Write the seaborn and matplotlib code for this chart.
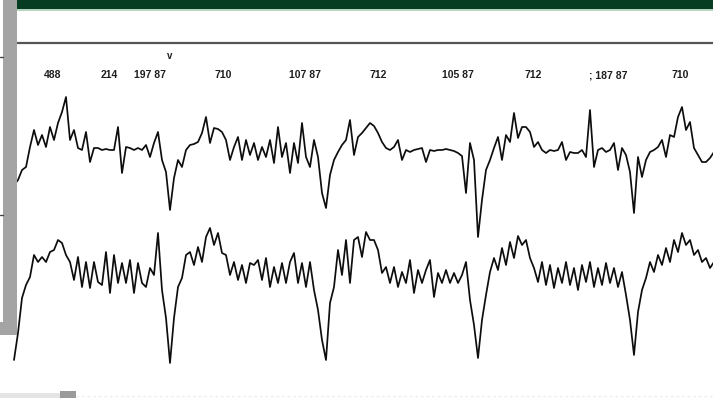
import numpy as np
import pandas as pd
import matplotlib
matplotlib.use("Agg")
import matplotlib.pyplot as plt
from matplotlib.patches import Rectangle
import seaborn as sns

# Two ECG leads, amplitude in microvolts, sampled every 16 ms
lead_upper_uv = [
    -350, -300, -200, -170, 30, 200, 50, 150, 30, 230, 100, 270, 380, 530, 100, 200,
    20, 0, 180, -120, 20, 20, 0, 10, 0, 0, 230, -230, 30, 20, 0, 20,
    0, 50, -70, 70, 180, -100, -220, -600, -280, -100, -170, 0, 50, 60,
    80, 170, 330, 70, 220, 210, 180, 100, -100, 30, 130, -100, 100, -50,
    70, -100, 30, -70, 100, -130, 230, -70, 70, -230, 70, -130, 270, -70,
    -170, 100, -70, -430, -580, -250, -100, -20, 50, 100, 300, -50, 130, 170,
    220, 270, 240, 170, 80, 20, 0, 30, 100, -100, 0, -20, 0, 10,
    20, -120, 0, -10, 0, 0, 10, 0, -10, -30, -60, -430, 70, -100,
    -870, -500, -200, -100, 20, 130, -100, 150, 80, 370, 120, 230, 230, 180,
    30, 80, 0, -30, 0, -10, 0, 80, -100, -20, -30, -30, 0, -70,
    400, -170, 0, 20, -20, 0, 70, -200, 20, -50, -220, -630, -70, -270,
    -100, -20, 0, 30, 100, -70, 150, 130, 330, 430, 200, 280, 20, -50,
    -120, -120, -80, -20,
]

lead_lower_uv = [
    -900, -630, -280, -150, -70, 150, 80, 130, 80, 180, 200, 300, 270, 150, 80, -100,
    130, -170, 80, -180, 80, -120, -150, 180, -230, 150, -130, 70, -130, 100,
    -230, 70, -130, -170, 20, -50, 370, -200, -480, -930, -480, -170, -80, 150,
    180, 50, 230, 80, 330, 420, 250, 370, 170, 150, -50, 80, -100, 50,
    -130, 70, 50, 100, -100, 120, -170, 30, -130, 70, -130, 80, 170, -130,
    70, -170, 80, -200, -400, -700, -900, -330, -170, 200, -50, 300, -130, 300,
    330, 130, 380, 300, 300, 200, -30, 30, -130, 30, -170, -20, -130, 100,
    -230, 0, -130, 0, 100, -270, -30, -130, 0, -130, -30, -130, -50, 80,
    -300, -550, -880, -500, -250, -20, 120, 0, 220, 50, 280, 120, 340, 250,
    300, 120, 20, -120, 80, -150, 50, -180, 20, -130, 80, -150, 20, -200,
    50, -120, 80, -170, 20, -150, 70, -130, 20, -170, -20, -250, -500, -850,
    -420, -200, -80, 80, -20, 150, 50, 220, 80, 300, 180, 370, 250, 300,
    150, 200, 80, 120, 20, 80,
]

# Interval annotations printed above the strip
rhythm_labels = ["488", "214", "197 87", "710", "107 87", "712",
                 "105 87", "712", "; 187 87", "710"]

# ---- layout -------------------------------------------------------------
W, H = 713, 398
SAMPLE_S = 0.016          # seconds between samples
PX_PER_S = 250.0          # paper speed in pixels per second
X0_PX = 14.0              # pixel column of t = 0
UV_PER_PX = 10.0          # vertical gain
UPPER_BASE_PX = 150.0     # baseline row of the upper lead
LOWER_BASE_PX = 270.0     # baseline row of the lower lead
lower_offset_uv = (LOWER_BASE_PX - UPPER_BASE_PX) * UV_PER_PX

label_px = [53, 109, 150, 223, 305, 378, 458, 533, 608, 680]

sns.set_theme(style="white")
plt.rcParams["font.family"] = ["Liberation Sans", "DejaVu Sans"]

fig = plt.figure(figsize=(W / 100, H / 100), dpi=100)
ax = fig.add_axes([0, 0, 1, 1])
ax.set_xlim(-X0_PX / PX_PER_S, (W - X0_PX) / PX_PER_S)
ax.set_ylim((UPPER_BASE_PX - H) * UV_PER_PX, UPPER_BASE_PX * UV_PER_PX)
ax.axis("off")

frames = []
for name, vals, off in (("upper", lead_upper_uv, 0.0),
                        ("lower", lead_lower_uv, lower_offset_uv)):
    v = np.asarray(vals, dtype=float)
    frames.append(pd.DataFrame({
        "t": np.arange(len(v)) * SAMPLE_S,
        "uv": v - off,
        "lead": name,
    }))
df = pd.concat(frames, ignore_index=True)

sns.lineplot(data=df, x="t", y="uv", units="lead", estimator=None,
             color="#0d0d0d", linewidth=1.25, ax=ax, legend=False, zorder=3)


def px(x, y):
    """Pixel position -> axes fraction."""
    return x / W, 1 - y / H


def rect(x0, y0, x1, y1, color, z=5):
    fx0, fy1 = px(x0, y1)
    ax.add_patch(Rectangle((fx0, fy1), (x1 - x0) / W, (y1 - y0) / H,
                           transform=ax.transAxes, color=color, lw=0,
                           zorder=z, clip_on=False))


# header band and rule
rect(17, 0, W, 9, "#063d22")
rect(17, 9, W, 10.5, "#b5d3bf")
ax.plot([17 / W, 1], [1 - 42.5 / H] * 2, transform=ax.transAxes,
        color="#555555", lw=1.6, zorder=5)

# grey side bar
rect(3, 0, 17, 335, "#a4a4a4", z=6)
rect(0, 322, 17, 335, "#a4a4a4", z=6)
for yy in (57, 215):
    ax.plot([0, 3 / W], [1 - yy / H] * 2, transform=ax.transAxes,
            color="#444444", lw=1.0, zorder=6)

# footer
rect(0, 393, 60, 398, "#e4e4e4")
rect(60, 391, 76, 398, "#9a9a9a")
ax.plot([76 / W, 1], [1 - 395.5 / H] * 2, transform=ax.transAxes,
        color="#eeeeee", lw=1.0, ls=(0, (2, 2)), zorder=4)

# interval labels
for lab, xp in zip(rhythm_labels, label_px):
    fx, fy = px(xp, 75)
    ax.text(fx, fy, lab, transform=ax.transAxes, ha="center", va="center",
            fontsize=7.5, fontweight="bold", color="#1e1e1e", zorder=7)
fx, fy = px(170, 56)
ax.text(fx, fy, "v", transform=ax.transAxes, ha="center", va="center",
        fontsize=7, fontweight="bold", color="#1e1e1e", zorder=7)

fig.savefig("out.png", dpi=100)
